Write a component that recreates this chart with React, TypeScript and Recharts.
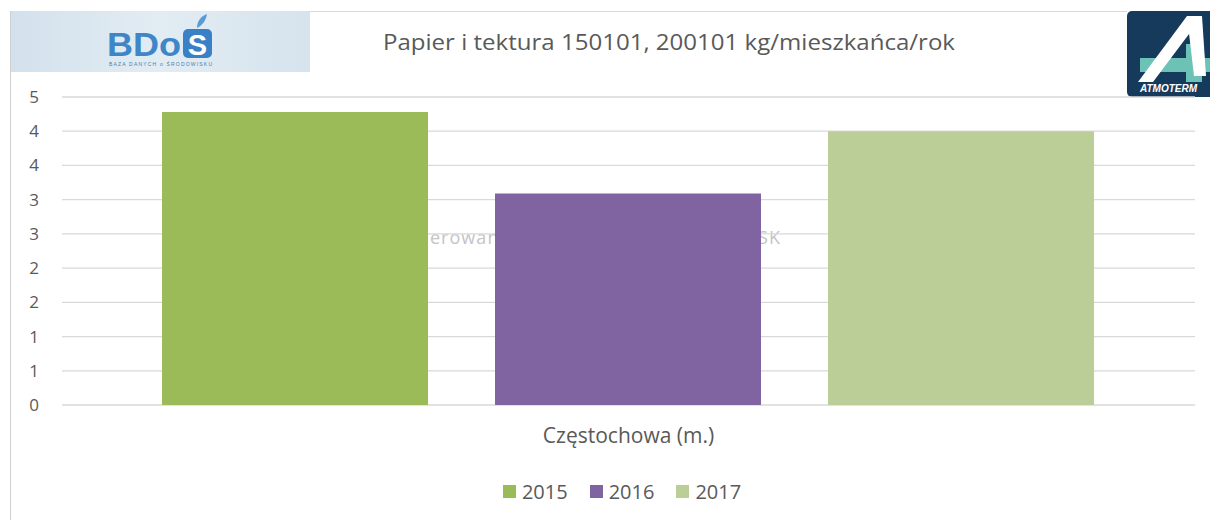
import React from 'react';
import { BarChart, Bar, XAxis, YAxis, CartesianGrid } from 'recharts';

const categories = ['Częstochowa (m.)'];
const series2015 = [4.28];
const series2016 = [3.09];
const series2017 = [4.0];
const seriesNames = ['2015', '2016', '2017'];
const seriesColors = ['#9BBB59', '#8064A2', '#BBCE97'];
const yTicks = [0, 0.5, 1, 1.5, 2, 2.5, 3, 3.5, 4, 4.5];
const title = 'Papier i tektura 150101, 200101 kg/mieszkańca/rok';
const watermark = 'Wygenerowano przez system ATMOTERM SK';

const data = categories.map((name, i) => ({
  name,
  [seriesNames[0]]: series2015[i],
  [seriesNames[1]]: series2016[i],
  [seriesNames[2]]: series2017[i],
}));

const FONT = '"Open Sans", sans-serif';
const GRAY = '#595959';

const LegendBlock = () => (
  <div style={{ position: 'absolute', left: 0, top: 478, width: 1244, display: 'flex', justifyContent: 'center', alignItems: 'center', fontFamily: FONT, fontSize: 20, color: GRAY }}>
    {seriesNames.map((s, i) => (
      <div key={s} style={{ display: 'flex', alignItems: 'center', marginRight: i < seriesNames.length - 1 ? 22 : 0 }}>
        <span style={{ display: 'inline-block', width: 13, height: 13, background: seriesColors[i], marginRight: 6 }} />
        <span>{s}</span>
      </div>
    ))}
  </div>
);

export default function App() {
  return (
    <div style={{ position: 'absolute', left: 0, top: 0, width: 1210, height: 520, background: '#ffffff', overflow: 'hidden' }}>
      {/* frame lines */}
      <div style={{ position: 'absolute', left: 10, top: 11, width: 1, height: 509, background: '#cfcfcf' }} />
      <div style={{ position: 'absolute', left: 310, top: 11, width: 817, height: 1, background: '#d9d9d9' }} />
      {/* BDoS header box */}
      <div style={{ position: 'absolute', left: 11, top: 11, width: 299, height: 61, background: 'linear-gradient(90deg, #d3e1ec 0%, #e2ecf3 50%, #d6e3ed 100%)' }} />
      <svg style={{ position: 'absolute', left: 0, top: 0 }} width={1210} height={120}>
        <text x={107} y={56} fontFamily='"Liberation Sans", Arial, sans-serif' fontWeight="bold" fontSize={33} fill="#3f86c8" textLength={74} lengthAdjust="spacingAndGlyphs">BDo</text>
        <rect x={183} y={29} width={29} height={29} rx={5} fill="#3a80c6" />
        <path d="M197 28 C 197 21, 201 16, 207 14 C 206 20, 203 25, 197 28 Z" fill="#5b9bd5" />
        <text x={197.5} y={55} textAnchor="middle" fontFamily='"Liberation Sans", Arial, sans-serif' fontWeight="bold" fontSize={29} fill="#ffffff">S</text>
        <text x={109} y={66} fontFamily='"Liberation Sans", Arial, sans-serif' fontSize={5} fill="#4a7fae" textLength={103}>BAZA DANYCH o ŚRODOWISKU</text>
        <text x={383} y={50} fontFamily={FONT} fontSize={21.5} fill={GRAY} textLength={572} lengthAdjust="spacingAndGlyphs">{title}</text>
        {/* ATMOTERM logo */}
        <rect x={1127} y={11} width={100} height={86} rx={5} fill="#163a5c" />
        <rect x={1140} y={58} width={75} height={14} fill="#6cc2b4" />
        <rect x={1186} y={44} width={16} height={38} fill="#6cc2b4" />
        <polygon points="1138,82 1153,82 1201,18 1187,16" fill="#ffffff" />
        <polygon points="1187,16 1202,16 1206,76 1194,76" fill="#ffffff" />
        <text x={1140} y={92} fontFamily='"Liberation Sans", Arial, sans-serif' fontWeight="bold" fontStyle="italic" fontSize={10} fill="#ffffff">ATMOTERM</text>
      </svg>
      {/* watermark behind bars */}
      <svg style={{ position: 'absolute', left: 0, top: 0 }} width={1210} height={520}>
        <text x={368} y={244} fontFamily={FONT} fontSize={18} fill="#c4c4c4" textLength={412} lengthAdjust="spacing">{watermark}</text>
      </svg>
      <div style={{ position: 'absolute', left: 0, top: 0 }}>
        <BarChart
          width={1210}
          height={520}
          data={data}
          margin={{ top: 97, right: 15, bottom: 65, left: 0 }}
          barCategoryGap={100}
          barGap={67}
        >
          <CartesianGrid vertical={false} stroke="#d9d9d9" strokeWidth={1.3} />
          <XAxis
            dataKey="name"
            axisLine={false}
            tickLine={false}
            tickSize={0}
            tickMargin={23}
            height={50}
            tick={{ fontFamily: FONT, fontSize: 21, fill: GRAY }}
          />
          <YAxis
            width={62}
            domain={[0, 4.5]}
            ticks={yTicks}
            interval={0}
            axisLine={false}
            tickLine={false}
            tickSize={0}
            tickMargin={23}
            tickFormatter={(v: number) => String(Math.round(v))}
            tick={{ fontFamily: FONT, fontSize: 17, fill: GRAY }}
          />
          {seriesNames.map((s, i) => (
            <Bar key={s} dataKey={s} fill={seriesColors[i]} isAnimationActive={false} />
          ))}
        </BarChart>
      </div>
      <LegendBlock />
    </div>
  );
}
